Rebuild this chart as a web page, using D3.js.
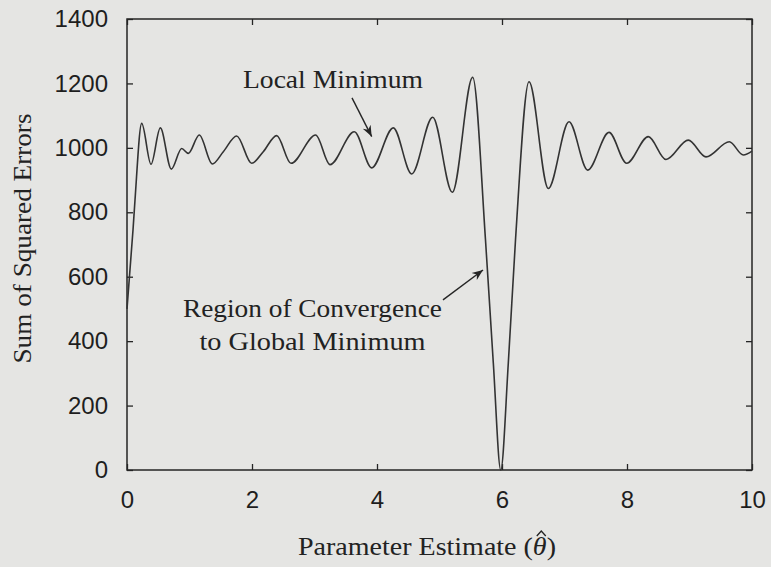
<!DOCTYPE html>
<html>
<head>
<meta charset="utf-8">
<script src="https://cdn.jsdelivr.net/npm/d3@7"></script>
<style>
  html, body { margin: 0; padding: 0; background: #e5e5e3; }
  svg { display: block; }
</style>
</head>
<body>
<svg id="chart" width="771" height="567"></svg>
<script>
// ---- data ----
const thetaValues = [0.00, 0.096, 0.128, 0.235, 0.384, 0.533, 0.709, 0.875, 0.981, 1.157,
  1.365, 1.541, 1.755, 1.995, 2.18, 2.395, 2.624, 3.019, 3.248, 3.637,
  3.915, 4.261, 4.555, 4.891, 5.205, 5.531, 5.736, 5.861, 5.98, 6.101,
  6.216, 6.432, 6.741, 7.072, 7.371, 7.712, 7.995, 8.341, 8.624, 8.981,
  9.264, 9.637, 9.861, 10.0];
const sseValues = [500, 745, 838, 1076, 949, 1062, 934, 998, 983, 1040,
  950, 988, 1037, 952, 988, 1038, 952, 1040, 948, 1050,
  938, 1062, 919, 1095, 862, 1219, 714, 332, 0, 332,
  714, 1205, 874, 1081, 931, 1048, 952, 1035, 964, 1024,
  972, 1019, 978, 990];
const xTicks = [0, 2, 4, 6, 8, 10];
const yTicks = [0, 200, 400, 600, 800, 1000, 1200, 1400];
const xDomain = [0, 10];
const yDomain = [0, 1400];
const xTitle = "Parameter Estimate (";
const yTitle = "Sum of Squared Errors";
// annotations in data units: label lines, label anchor, arrow tail, arrow tip
const annLabels = [["Local Minimum"], ["Region of Convergence", "to Global Minimum"]];
const annLabelX = [3.296, 2.968];
const annLabelY = [1186, 475];
const annArrowFrom = [[3.60, 1155], [5.056, 528]];
const annArrowTo = [[3.915, 1035], [5.696, 621]];

// ---- layout ----
const W = 771, H = 567;
const margin = {left: 127, top: 19, right: 19, bottom: 97};
const pw = W - margin.left - margin.right;
const ph = H - margin.top - margin.bottom;
const ink = "#252525";
const serif = "'Liberation Serif', 'Times New Roman', serif";
const sans = "'Liberation Sans', Arial, sans-serif";
const annWidths = [[180], [259, 226]];

const svg = d3.select("#chart");
svg.append("rect").attr("width", W).attr("height", H).attr("fill", "#e5e5e3");

const g = svg.append("g").attr("transform", `translate(${margin.left},${margin.top})`);
const x = d3.scaleLinear().domain(xDomain).range([0, pw]);
const y = d3.scaleLinear().domain(yDomain).range([ph, 0]);

const defs = svg.append("defs");
defs.append("marker").attr("id", "arrow").attr("viewBox", "0 0 10 10")
  .attr("refX", 10).attr("refY", 5).attr("markerWidth", 11).attr("markerHeight", 11)
  .attr("markerUnits", "userSpaceOnUse").attr("orient", "auto")
  .append("path").attr("d", "M0,1 L10,5 L0,9 L3,5 Z").attr("fill", ink);

// axes (ticks pointing inward on all four sides)
function styleAxis(sel) {
  sel.select(".domain").remove();
  sel.selectAll(".tick line").attr("stroke", ink).attr("stroke-width", 1.3);
  sel.selectAll(".tick text").attr("fill", "#1e1e1e").attr("font-family", sans).attr("font-size", 24);
}
g.append("g").attr("transform", `translate(0,${ph})`)
  .call(d3.axisBottom(x).tickValues(xTicks).tickSize(-6).tickPadding(21).tickFormat(d3.format("d")))
  .call(styleAxis);
g.append("g")
  .call(d3.axisTop(x).tickValues(xTicks).tickSize(-6).tickFormat(""))
  .call(styleAxis);
g.append("g")
  .call(d3.axisLeft(y).tickValues(yTicks).tickSize(-6).tickPadding(19).tickFormat(d3.format("d")))
  .call(styleAxis);
g.append("g").attr("transform", `translate(${pw},0)`)
  .call(d3.axisRight(y).tickValues(yTicks).tickSize(-6).tickFormat(""))
  .call(styleAxis);

// frame
g.append("rect").attr("width", pw).attr("height", ph)
  .attr("fill", "none").attr("stroke", ink).attr("stroke-width", 1.5);

// curve
const pts = thetaValues.map((t, i) => [t, sseValues[i]]);
const line = d3.line().x(d => x(d[0])).y(d => y(d[1])).curve(d3.curveMonotoneX);
g.append("path").datum(pts).attr("d", line)
  .attr("fill", "none").attr("stroke", "#333").attr("stroke-width", 1.6)
  .attr("stroke-linejoin", "round");

// annotations
annLabels.forEach((lines, i) => {
  lines.forEach((txt, j) => {
    g.append("text")
      .attr("x", x(annLabelX[i])).attr("y", y(annLabelY[i]) + j * 33)
      .attr("text-anchor", "middle")
      .attr("font-family", serif).attr("font-size", 26).attr("fill", "#222")
      .attr("textLength", annWidths[i][j]).attr("lengthAdjust", "spacingAndGlyphs")
      .text(txt);
  });
  g.append("line")
    .attr("x1", x(annArrowFrom[i][0])).attr("y1", y(annArrowFrom[i][1]))
    .attr("x2", x(annArrowTo[i][0])).attr("y2", y(annArrowTo[i][1]))
    .attr("stroke", ink).attr("stroke-width", 1.4)
    .attr("marker-end", "url(#arrow)");
});

// axis titles
const xt = svg.append("text")
  .attr("x", 298).attr("y", 555)
  .attr("font-family", serif).attr("font-size", 26).attr("fill", "#222")
  .attr("textLength", 258).attr("lengthAdjust", "spacingAndGlyphs");
xt.append("tspan").text(xTitle);
xt.append("tspan").attr("font-style", "italic").text("\u03B8");
xt.append("tspan").text(")");
// hat over theta, drawn as a small caret
const ext = xt.node().getExtentOfChar(xTitle.length);
const hx = ext.x + ext.width / 2 + 1.5;
svg.append("path")
  .attr("d", `M${hx - 4.5},${536} L${hx},${531} L${hx + 4.5},${536}`)
  .attr("fill", "none").attr("stroke", "#222").attr("stroke-width", 1.3);

svg.append("text")
  .attr("transform", `translate(31,${margin.top + ph / 2 - 6}) rotate(-90)`)
  .attr("text-anchor", "middle")
  .attr("font-family", serif).attr("font-size", 26).attr("fill", "#222")
  .attr("textLength", 250).attr("lengthAdjust", "spacingAndGlyphs")
  .text(yTitle);
</script>
</body>
</html>
